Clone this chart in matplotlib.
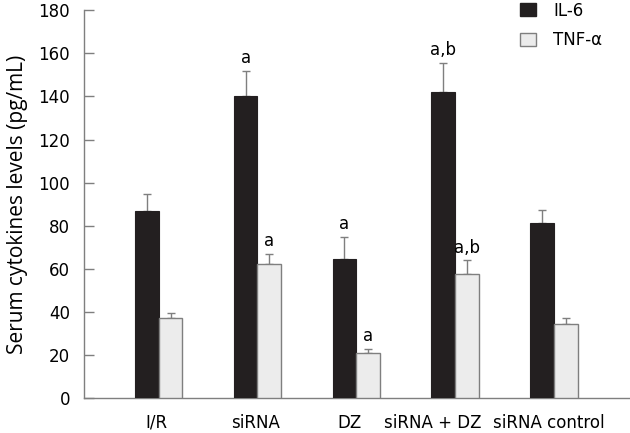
import numpy as np
import matplotlib.pyplot as plt
from matplotlib.patches import Patch

groups = ['I/R', 'siRNA', 'DZ', 'siRNA + DZ', 'siRNA control']
il6 = [87, 140, 64.5, 142, 81.5]
il6_err = [8, 12, 10.5, 13.5, 6]
tnf = [37.5, 62.5, 21, 57.5, 34.5]
tnf_err = [2.3, 4.5, 2, 6.5, 2.6]
il6_marks = ['', 'a', 'a', 'a,b', '']
tnf_marks = ['', 'a', 'a', 'a,b', '']

dark = '#231f20'
light = '#ececec'
grey = '#7f7f7f'

plt.rcParams['font.family'] = ['DejaVu Sans']
plt.rcParams['font.size'] = 12

fig = plt.figure(figsize=(6.3, 4.33), dpi=100)
ax = fig.add_axes([0.133, 0.0797, 0.867, 0.897])

x = np.arange(len(groups))
w = 0.24
# labels in the source sit a bit left of the group centres
label_shift = [-0.02, -0.02, -0.07, -0.23, -0.05]

ax.bar(x - w / 2, il6, w, color=dark, edgecolor=dark, linewidth=0.8, zorder=3)
ax.bar(x + w / 2, tnf, w, color=light, edgecolor=grey, linewidth=1.0, zorder=3)
ax.errorbar(x - w / 2, il6, yerr=[np.zeros(len(il6)), il6_err], fmt='none',
            ecolor=grey, elinewidth=1, capsize=3, capthick=1, zorder=2)
ax.errorbar(x + w / 2, tnf, yerr=[np.zeros(len(tnf)), tnf_err], fmt='none',
            ecolor=grey, elinewidth=1, capsize=3, capthick=1, zorder=2)

for i in range(len(groups)):
    if il6_marks[i]:
        ax.text(x[i] - w / 2, il6[i] + il6_err[i] + 3.5, il6_marks[i],
                ha='center', va='baseline', fontsize=12)
    if tnf_marks[i]:
        ax.text(x[i] + w / 2, tnf[i] + tnf_err[i] + 3.5, tnf_marks[i],
                ha='center', va='baseline', fontsize=12)
    ax.text(x[i] + label_shift[i], -7, groups[i], ha='center', va='top',
            fontsize=12)

ax.set_xlim(-0.758, 4.77)
ax.set_ylim(0, 180)
ax.set_yticks(range(0, 181, 20))
ax.set_xticks([])
ax.tick_params(axis='y', direction='in', length=7, width=1, color=grey, pad=10)
ax.set_ylabel('Serum cytokines levels (pg/mL)', labelpad=7,
              family=['Open Sans', 'DejaVu Sans'], fontsize=15)

for s in ['top', 'right']:
    ax.spines[s].set_visible(False)
for s in ['left', 'bottom']:
    ax.spines[s].set_color(grey)
    ax.spines[s].set_linewidth(1)

handles = [Patch(facecolor=dark, edgecolor=dark, label='IL-6'),
           Patch(facecolor=light, edgecolor=grey, label='TNF-α')]
ax.legend(handles=handles, loc='upper left', bbox_to_anchor=(0.802, 1.031),
          bbox_transform=fig.transFigure, frameon=False, handlelength=0.96,
          handleheight=0.84, handletextpad=1.0, labelspacing=0.7, fontsize=12)

fig.savefig('out.png', dpi=100)
